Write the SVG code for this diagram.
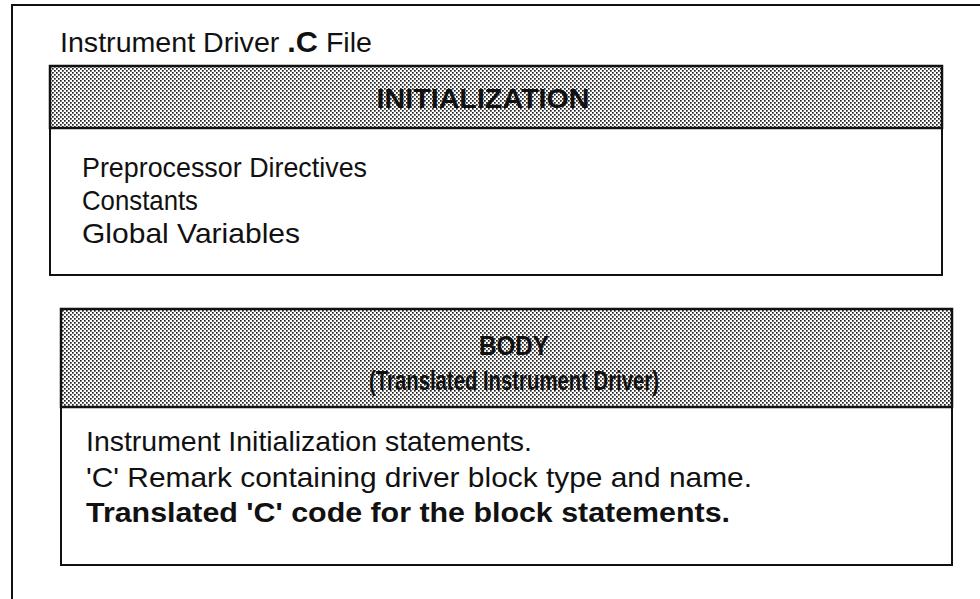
<svg xmlns="http://www.w3.org/2000/svg" width="980" height="599" viewBox="0 0 980 599">
<style>
.t{font-family:"Liberation Sans",Arial,sans-serif;fill:#111}
.hd{font-weight:bold;text-anchor:middle}
.b{font-size:28px}
.box{fill:#fff;stroke:#111;stroke-width:2}
.hdr{fill:url(#dots);stroke:#111;stroke-width:2.5}
</style>
<defs>
<pattern id="dots" width="4" height="4" patternUnits="userSpaceOnUse">
<rect width="4" height="4" fill="#fff"/>
<rect width="1.7" height="1.7" fill="#222"/>
<rect x="2" y="2" width="1.7" height="1.7" fill="#222"/>
</pattern>
</defs>
<g id="frame">
<path d="M12,599 V5 H980" fill="none" stroke="#111" stroke-width="2"/>
<text class="t" x="60" y="52" font-size="28" textLength="312" lengthAdjust="spacingAndGlyphs">Instrument Driver <tspan font-weight="bold" font-size="30">.C</tspan> File</text>
</g>
<g id="initialization">
<rect class="box" x="50" y="66" width="892" height="209"/>
<rect class="hdr" x="50" y="66" width="892" height="62"/>
<text class="t hd" x="483" y="108" font-size="28" textLength="213" lengthAdjust="spacingAndGlyphs">INITIALIZATION</text>
<text class="t b" x="82" y="177" textLength="285" lengthAdjust="spacingAndGlyphs">Preprocessor Directives</text>
<text class="t b" x="82" y="210" textLength="116" lengthAdjust="spacingAndGlyphs">Constants</text>
<text class="t b" x="82" y="243" textLength="218" lengthAdjust="spacingAndGlyphs">Global Variables</text>
</g>
<g id="body">
<rect class="box" x="61" y="309" width="891" height="256"/>
<rect class="hdr" x="61" y="309" width="891" height="98"/>
<text class="t hd" x="514" y="355" font-size="28" textLength="70" lengthAdjust="spacingAndGlyphs">BODY</text>
<text class="t hd" x="514" y="390" font-size="28" textLength="290" lengthAdjust="spacingAndGlyphs">(Translated Instrument Driver)</text>
<text class="t b" x="86" y="451" textLength="446" lengthAdjust="spacingAndGlyphs">Instrument Initialization statements.</text>
<text class="t b" x="86" y="487" textLength="666" lengthAdjust="spacingAndGlyphs">'C' Remark containing driver block type and name.</text>
<text class="t b" x="86" y="522" font-weight="bold" textLength="644" lengthAdjust="spacingAndGlyphs">Translated 'C' code for the block statements.</text>
</g>
<g id="connectors"/>
</svg>
